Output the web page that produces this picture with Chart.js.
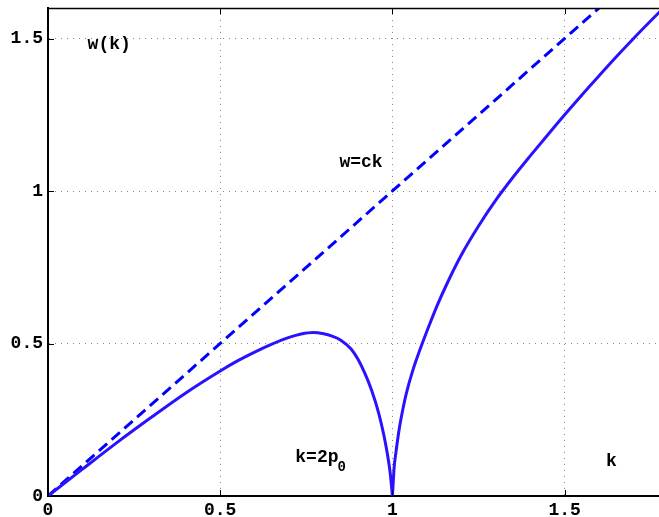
<!DOCTYPE html>
<html>
<head>
<meta charset="utf-8">
<title>w(k)</title>
<script src="https://cdn.jsdelivr.net/npm/chart.js@4.4.1/dist/chart.umd.min.js"></script>
<style>
    html, body { margin: 0; padding: 0; background: #fff; overflow: hidden; }
    #wrap { width: 668px; height: 517px; }
</style>
</head>
<body>
<div id="wrap"><canvas id="chart" width="668" height="517"></canvas></div>
<script>
// Dispersion curve
const kValues = [0, 0.1, 0.2, 0.3, 0.4, 0.5, 0.55, 0.6, 0.65, 0.7, 0.735, 0.77, 0.8, 0.825, 0.85, 0.88, 0.9, 0.92, 0.94, 0.96, 0.975, 0.985, 0.993, 1.0,
                 1.005, 1.01, 1.02, 1.03, 1.04, 1.06, 1.08, 1.1, 1.13, 1.16, 1.2, 1.25, 1.3, 1.35, 1.4, 1.45, 1.5, 1.55, 1.6, 1.65, 1.7, 1.75, 1.8];
const wValues = [0, 0.088, 0.175, 0.258, 0.338, 0.41, 0.443, 0.472, 0.498, 0.52, 0.531, 0.536, 0.532, 0.524, 0.511, 0.482, 0.448, 0.402, 0.345, 0.272, 0.2, 0.14, 0.08, 0,
                 0.095, 0.142, 0.222, 0.283, 0.335, 0.415, 0.48, 0.54, 0.625, 0.7, 0.79, 0.885, 0.97, 1.045, 1.115, 1.183, 1.25, 1.315, 1.378, 1.44, 1.5, 1.558, 1.615];

// Light line w = ck
const lightK = [0, 1.8];
const lightW = [0, 1.8];

const xTicks = [0, 0.5, 1, 1.5];
const yTicks = [0, 0.5, 1, 1.5];

const monoFamily = "'Liberation Mono', 'Courier New', monospace";
const labelFont = "bold 18px " + monoFamily;

// Text labels placed in data coordinates
const notes = [
    { text: 'w(k)', k: 0.115, w: 1.48 },
    { text: 'w=ck', k: 0.846, w: 1.093 },
    { text: 'k=2p', k: 0.718, w: 0.127, sub: '0' },
    { text: 'k', k: 1.62, w: 0.113 }
];

function toPoints(xs, ys) {
    return xs.map((x, i) => ({ x: x, y: ys[i] }));
}

// split the curve at the cusp k = 1 so both branches keep a sharp tip
const cusp = kValues.indexOf(1.0);
const leftBranch = toPoints(kValues.slice(0, cusp + 1), wValues.slice(0, cusp + 1));
const rightBranch = toPoints(kValues.slice(cusp), wValues.slice(cusp));

// Frame on top, inward tick marks and the text labels
const framePlugin = {
    id: 'frame',
    afterDraw(chart) {
        const ctx = chart.ctx;
        const area = chart.chartArea;
        const xs = chart.scales.x;
        const ys = chart.scales.y;
        ctx.save();
        ctx.strokeStyle = '#000';
        ctx.lineWidth = 1.5;
        ctx.beginPath();
        ctx.moveTo(area.left, area.top + 0.5);
        ctx.lineTo(area.right, area.top + 0.5);
        ctx.stroke();

        ctx.lineWidth = 1;
        xTicks.forEach(v => {
            const px = Math.round(xs.getPixelForValue(v)) + 0.5;
            ctx.beginPath();
            ctx.moveTo(px, area.bottom);
            ctx.lineTo(px, area.bottom - 6);
            ctx.moveTo(px, area.top);
            ctx.lineTo(px, area.top + 6);
            ctx.stroke();
        });
        yTicks.forEach(v => {
            const py = Math.round(ys.getPixelForValue(v)) + 0.5;
            ctx.beginPath();
            ctx.moveTo(area.left, py);
            ctx.lineTo(area.left + 6, py);
            ctx.stroke();
        });

        ctx.fillStyle = '#000';
        ctx.textBaseline = 'middle';
        ctx.textAlign = 'left';
        notes.forEach(n => {
            ctx.font = labelFont;
            const px = xs.getPixelForValue(n.k);
            const py = ys.getPixelForValue(n.w);
            ctx.fillText(n.text, px, py);
            if (n.sub) {
                const wdt = ctx.measureText(n.text).width;
                ctx.font = "bold 14px " + monoFamily;
                ctx.fillText(n.sub, px + wdt - 1, py + 10);
            }
        });
        ctx.restore();
    }
};

function curveStyle(data) {
    return {
        data: data,
        borderColor: '#2a12ff',
        borderWidth: 3,
        pointRadius: 0,
        cubicInterpolationMode: 'monotone',
        fill: false
    };
}

function initChart() {
    const ctx = document.getElementById('chart');
    return new Chart(ctx.getContext('2d'), {
        type: 'line',
        data: {
            datasets: [
                curveStyle(leftBranch),
                curveStyle(rightBranch),
                {
                    label: 'w=ck',
                    data: toPoints(lightK, lightW),
                    borderColor: '#0000ff',
                    borderWidth: 3,
                    borderDash: [11, 6],
                    pointRadius: 0,
                    tension: 0,
                    fill: false
                }
            ]
        },
        options: {
            responsive: false,
            animation: false,
            layout: { padding: { top: 8, right: 0, bottom: 0, left: 0 } },
            scales: {
                x: {
                    type: 'linear',
                    min: 0,
                    max: 1.8,
                    afterBuildTicks: scale => { scale.ticks = xTicks.map(v => ({ value: v })); },
                    afterFit: scale => {
                        scale.height = 21;
                        scale.paddingLeft = 0;
                        scale.paddingRight = 0;
                    },
                    grid: {
                        drawTicks: false,
                        color: c => (c.tick && c.tick.value === 0) ? 'rgba(0,0,0,0)' : '#888',
                        lineWidth: 1
                    },
                    border: { display: true, color: '#000', width: 2, dash: [1, 5] },
                    ticks: {
                        color: '#000',
                        padding: 4,
                        font: { family: monoFamily, size: 18, weight: 'bold' },
                        callback: v => String(v)
                    }
                },
                y: {
                    type: 'linear',
                    min: 0,
                    max: 1.6,
                    afterBuildTicks: scale => { scale.ticks = yTicks.map(v => ({ value: v })); },
                    afterFit: scale => {
                        scale.width = 48;
                        scale.paddingTop = 0;
                        scale.paddingBottom = 0;
                    },
                    grid: {
                        drawTicks: false,
                        color: c => (c.tick && c.tick.value === 0) ? 'rgba(0,0,0,0)' : '#888',
                        lineWidth: 1
                    },
                    border: { display: true, color: '#000', width: 2, dash: [1, 5] },
                    ticks: {
                        color: '#000',
                        padding: 5,
                        font: { family: monoFamily, size: 18, weight: 'bold' },
                        callback: v => String(v)
                    }
                }
            },
            plugins: {
                legend: { display: false },
                tooltip: { enabled: false }
            }
        },
        plugins: [framePlugin]
    });
}

initChart();
</script>
</body>
</html>
